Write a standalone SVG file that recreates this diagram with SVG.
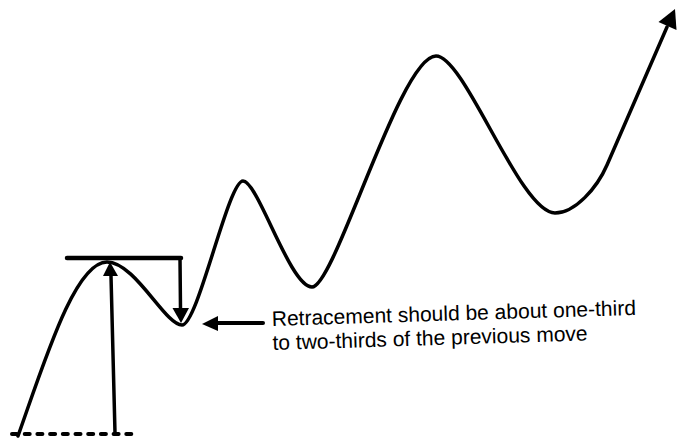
<svg xmlns="http://www.w3.org/2000/svg" width="678" height="444" viewBox="0 0 678 444">
<style>
.ln{fill:none;stroke:#000;stroke-linecap:round;stroke-linejoin:round}
.hd{fill:#000;stroke:none}
.tx{font-family:"Liberation Sans",Arial,sans-serif;font-size:21px;fill:#000}
</style>
<rect width="678" height="444" fill="#fff"/>
<g id="price-curve">
<path class="ln" stroke-width="3.5" d="M18,436 C45,360 75,262 107,262 C135,262 165,325 182,325 C198,325 228,181 243,181 C258,181 290,287 312,287 C335,287 400,56 436,56 C465,56 520,213 555,213 C575,213 597,188 607,165 L667,27"/>
<polygon class="hd" points="675,9 658.5,22 676.5,30"/>
</g>
<g id="baseline">
<line class="ln" x1="12" y1="434" x2="132" y2="434" stroke-width="4" stroke-dasharray="5 7.7" stroke-linecap="butt"/>
</g>
<g id="connectors">
<line class="ln" x1="67" y1="258" x2="181" y2="258" stroke-width="4.5" stroke-linecap="butt"/>
<line class="ln" x1="180" y1="258" x2="180.5" y2="310" stroke-width="3.5"/>
<polygon class="hd" points="172.5,308 189,308 181,323"/>
<line class="ln" x1="115" y1="433" x2="111" y2="276" stroke-width="3.5"/>
<polygon class="hd" points="110,262 103,276 118,276"/>
<line class="ln" x1="218" y1="323" x2="263" y2="323" stroke-width="4" stroke-linecap="butt"/>
<polygon class="hd" points="202,324 218,316 218,331"/>
</g>
<g id="label" transform="rotate(-1.75 272 326)">
<text class="tx" x="272" y="326">Retracement should be about one-third</text>
<text class="tx" x="272" y="350">to two-thirds of the previous move</text>
</g>
</svg>
